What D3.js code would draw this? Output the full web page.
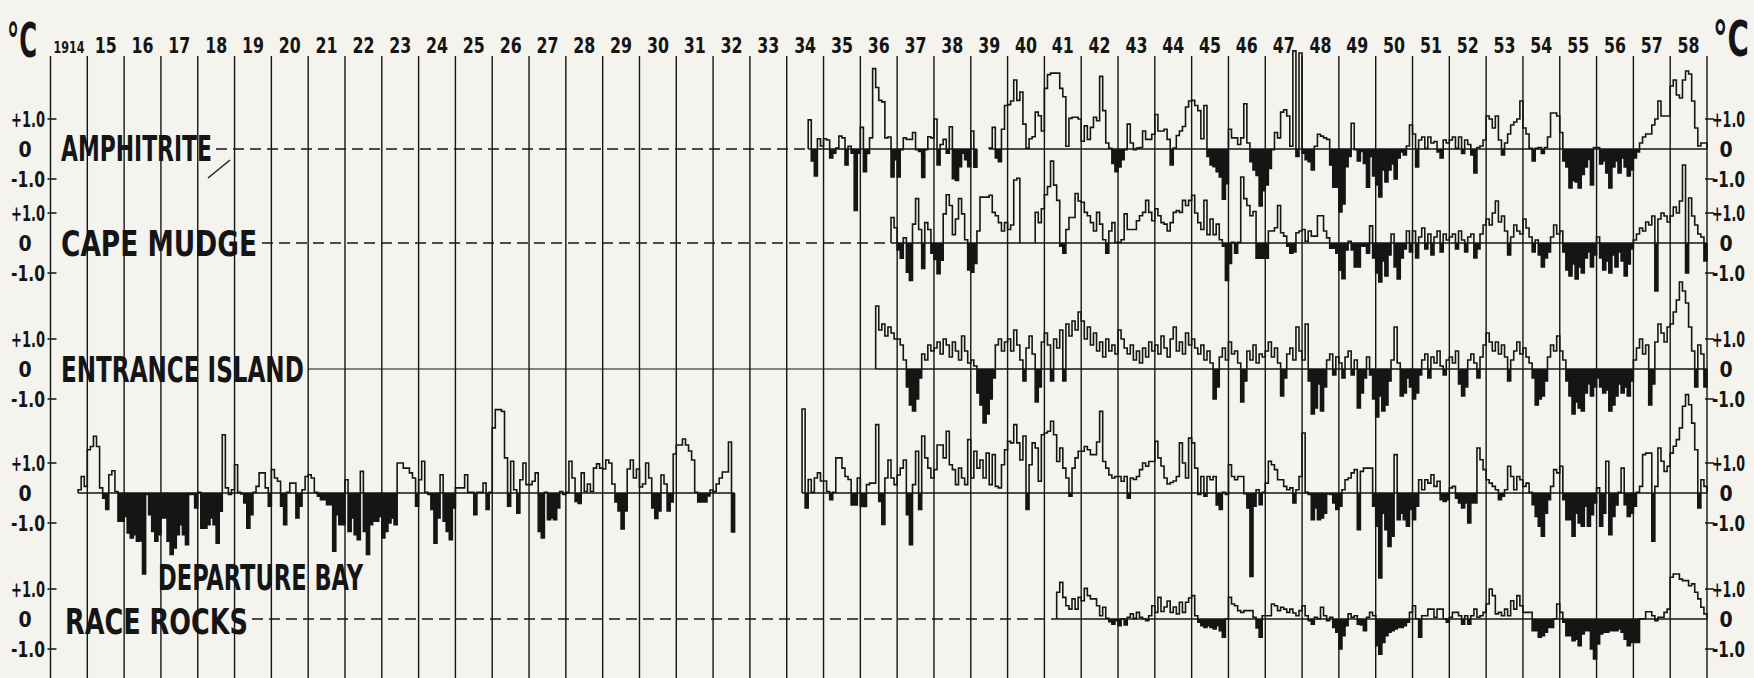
<!DOCTYPE html>
<html>
<head>
<meta charset="utf-8">
<script src="https://cdn.jsdelivr.net/npm/d3@7"></script>
<style>
  body { margin: 0; background: #f4f3ee; }
  svg { display: block; }
  text { font-family: "Liberation Sans Narrow", "DejaVu Sans Condensed", "Arial Narrow", sans-serif; font-weight: bold; fill: #151515; }
</style>
</head>
<body>
<svg id="chart" width="1754" height="678"></svg>
<script>
// year labels along the top
const yearLabels = ["1914", "15", "16", "17", "18", "19", "20", "21", "22", "23", "24", "25", "26", "27", "28",
  "29", "30", "31", "32", "33", "34", "35", "36", "37", "38", "39", "40", "41", "42", "43", "44", "45", "46",
  "47", "48", "49", "50", "51", "52", "53", "54", "55", "56", "57", "58"];
const stationNames = ["AMPHITRITE", "CAPE MUDGE", "ENTRANCE ISLAND", "DEPARTURE BAY", "RACE ROCKS"];
const tickValues = [1, 0, -1];
const tickLabels = ["+1.0", "0", "-1.0"];

// monthly sea temperature anomalies (°C); each series starts at the month given
const amphitriteStart = ["1934-08", "1939-07"];
const amphitrite1 = [
  0.97, -0.4, -0.9, 0.34, 0.1,
  0.34, 0.3, -0.3, -0.14, 0.03, 0.43, 0.37, -0.53, 0.09, -0.14, -2.05, -0.14,
  0.72, -0.76, -0.15, 0.37, 2.68, 2.05, 1.62, 1.57, 0.37, 0.4, -0.93, -0.36,
  -0.93, -0.02, 0.37, 0.32, 0.32, 0.55, -0.02, -0.08, -0.95, -0.02, 0.41, 0.37,
  1.0, -0.53, 0.15, 0.32, -0.14, 0.74, -0.99, -1.05, -0.59, -0.14, -0.36, -0.59,
  0.6, -0.61];
const amphitrite2 = [
  0.03, 0.72, -0.3, -0.42, 0.66, 1.45,
  1.48, 1.6, 2.3, 1.62, 1.9, 0.83, 0.03, 0.34, 0.41, 1.23, 1.11, 0.6,
  2.02, 2.48, 2.53, 2.53, 2.53, 2.02, 1.74, 0.09, 1.02, 1.06, 1.06, 1.0,
  0.26, 0.77, 0.32, 0.72, 1.06, 0.94, 2.42, 1.28, 0.2, 0.02, -0.48, -0.76,
  -0.6, -0.36, -0.02, 0.83, 0.2, -0.02, 0.03, 0.05, 0.6, 0.32, 0.32, 0.49,
  1.15, 0.6, 0.6, 0.66, 0.32, -0.53, 0.03, 0.45, 0.6, 0.75, 1.4, 1.6,
  1.62, 1.45, 1.28, 0.34, 1.45, -0.25, -0.53, -0.59, -0.76, -0.93, -1.67, -1.16,
  0.66, 0.37, 0.37, 0.15, 0.37, 1.51, 0.2, -0.42, -0.7, -0.88, -1.9, -1.39,
  -1.2, -0.65, -0.02, 0.55, 0.37, 1.23, 1.31, 1.1, 0.09, 3.27, -0.25, 3.2,
  -0.14, -0.36, -0.42, -0.7, 0.09, 0.49, 0.43, 0.37, 0.32, -0.53, -1.27, -1.27,
  -2.1, -1.83, -0.59, -0.25, 0.86, -0.02, -0.4, -0.08, -0.48, -1.27, -0.25, -0.9,
  -1.2, -1.6, -0.7, -1.1, -0.7, -0.5, -1.0, -0.3, -0.1, -0.2, 0.1, 0.8,
  0.5, -0.6, 0.3, 0.4, 0.02, 0.4, 0.2, 0.25, -0.1, -0.3, 0.3, 0.2,
  0.3, 0.4, 0.02, 0.4, -0.15, 0.3, 0.15, -0.2, -0.8, 0.05, 0.1, 0.3,
  1.1, 1.0, 0.7, 1.1, 0.3, -0.2, 0.2, 0.5, 0.8, 0.9, 1.0, 1.6,
  0.7, 0.5, 0.02, -0.4, 0.02, 0.05, -0.15, 0.05, 0.4, 1.2, 1.2, 1.1,
  0.55, -0.4, -0.6, -1.3, -1.05, -1.1, -1.3, -0.85, -0.6, -0.35, -1.2, 0.05,
  0.05, -0.5, -0.4, -0.8, -1.3, -0.6, -0.4, -0.8, -0.3, -0.6, -0.9, -0.7,
  -0.3, -0.1, 0.2, 0.4, 0.5, 0.5, 0.8, 1.0, 1.6, 1.1, 1.1, 1.1,
  2.1, 2.3, 1.8, 1.7, 2.3, 2.6, 2.5, 1.6, 0.7, 0.1, 0.2, 0.2];

const capeMudgeStart = ["1936-11", "1940-10"];
const capeMudge1 = [
  0.85, 0.51,
  -0.23, -0.51, 0.17, -0.97, -1.25, 0.63, 1.48, 0.45, -0.85, 0.68, 0.45, -0.34,
  -0.55, -1.02, -0.57, 0.97, 1.61, 1.25, 0.28, 0.8, 1.48, 0.97, 0.11, -0.9,
  -0.97, -0.68, 0.4, 1.53, 1.53, 1.53, 1.59, 1.02, 0.91, 0.68, 0.4, 0.68,
  0.45, 0.6, 2.1, 2.16];
const capeMudge2 = [
  1.02, 0.68, 1.14,
  1.61, 1.88, 2.73, 1.93, 1.42, -0.11, -0.34, 0.45, 0.85, 0.85, 1.65, 1.4,
  1.36, 1.02, 0.91, 0.68, 0.4, 1.02, 0.63, 0.11, -0.34, 0.4, 0.68, 0.02,
  0.02, 0.11, 0.97, 0.45, 0.45, 0.45, 0.74, 0.91, 1.02, 1.42, 1.02, 0.74,
  1.14, 0.91, 0.68, 0.63, 0.4, 0.68, 1.02, 1.08, 1.02, 1.42, 1.25, 1.42,
  1.59, 1.0, 0.68, 0.45, 1.42, 0.28, 0.8, 0.28, 0.63, 0.11, -0.11, -1.25,
  -0.68, 0.02, -0.34, 0.02, 2.2, 1.48, 1.25, 0.91, 1.05, -0.51, -0.51, -0.51,
  -0.51, 0.4, 0.4, 0.51, 1.25, 0.34, 0.23, -0.11, -0.34, -0.3, 0.34, 0.4,
  0.45, 0.06, 0.4, 0.23, 0.23, 0.91, 0.91, 0.4, 0.17, -0.17, -0.17, -0.34,
  -0.91, -1.19, -0.23, 0.06, -0.23, -0.8, -0.8, -0.11, -0.11, -0.34, 0.57, -0.5,
  -1.0, -1.3, -0.6, -1.1, -0.4, 0.3, -0.8, -1.2, -0.5, -0.2, 0.4, -0.3,
  0.4, -0.5, 0.2, 0.5, -0.2, 0.3, -0.4, 0.2, 0.4, -0.3, 0.3, 0.1,
  0.2, 0.3, -0.2, 0.4, 0.1, -0.3, 0.2, 0.3, -0.5, -0.2, 0.3, 0.6,
  0.8, 0.6, 1.0, 1.4, 0.7, 0.9, 0.4, -0.4, 0.2, 0.6, 0.4, 0.3,
  0.8, 0.5, 0.2, -0.3, 0.1, -0.4, -0.8, -0.5, -0.3, 0.2, 0.6, 0.3,
  0.4, -0.3, -0.9, -1.1, -0.7, -1.2, -0.8, -1.0, -0.5, -0.3, -0.8, -0.4,
  0.2, -0.5, -0.9, -0.6, -1.0, -0.4, -0.8, -0.3, -0.6, -1.1, -0.7, -0.2,
  0.1, 0.3, 0.5, 0.4, 0.7, 0.6, 0.9, -1.6, 0.8, 1.0, 0.9, 0.7,
  0.9, 1.2, 1.0, 1.4, 2.6, -1.0, 1.5, 0.9, 0.6, 0.3, 0.2, -0.6];

const entranceStart = ["1936-06"];
const entrance1 = [
  2.1, 1.3, 1.5, 1.1, 1.4, 1.2, 1.0,
  1.0, 0.8, 0.3, -0.6, -1.2, -1.4, -1.0, -0.3, 0.5, 0.3, 0.8, 0.6,
  0.7, 0.9, 0.5, 1.0, 0.8, 0.4, 0.9, 0.6, 0.3, 1.1, 0.6, 0.2,
  0.3, 0.1, -0.8, -1.2, -1.8, -1.5, -1.0, -0.3, 0.8, 1.0, 0.6, 0.9,
  1.0, 0.6, 1.3, 0.8, 0.3, -0.4, 0.7, 1.1, 0.5, -1.1, -0.6, 0.9,
  1.2, 0.8, -0.4, 1.0, 0.7, 1.3, -0.4, 1.5, 1.1, 1.6, 1.3, 1.9,
  1.6, 1.0, 1.4, 0.8, 1.2, 0.6, 0.9, 0.4, 1.0, 0.6, 0.8, 0.5,
  1.3, 1.0, 0.7, 0.5, 0.8, 0.3, 0.6, 0.2, 0.7, 0.4, 0.9, 0.6,
  0.8, 0.5, 1.1, 0.7, 0.4, 1.0, 1.4, 0.6, 0.9, 0.5, 1.2, 0.8,
  1.0, 0.7, 0.5, 0.8, 0.3, 0.6, 0.2, -1.0, -0.6, 0.4, 0.7, 0.3,
  0.9, 0.5, 0.6, 0.2, -1.1, -0.4, 0.6, 0.3, 0.8, 0.2, 0.5, 0.4,
  0.6, 0.9, 0.4, 0.7, 0.2, -0.9, -0.3, 0.5, 0.7, 0.3, 1.4, 0.6,
  0.3, 1.5, -0.4, -1.5, -1.3, -0.5, -1.4, -0.6, 0.3, 0.5, -0.2, 0.4,
  0.2, -0.3, 0.4, 0.6, -0.2, 0.3, -1.3, -0.8, -0.3, 0.4, -0.2, -1.0,
  -1.6, -0.9, -1.4, -1.2, -0.4, 0.3, 1.4, 0.2, -0.9, -0.8, -0.3, -0.6,
  -1.0, -0.8, -0.2, 0.3, 0.5, -0.3, 0.4, 0.2, 0.6, 0.1, -0.2, 0.3,
  0.4, 0.2, 0.6, -0.5, -0.9, -0.6, 0.3, 0.5, 0.2, -0.3, 0.4, 0.8,
  1.2, 0.9, 0.6, 0.9, 0.5, 0.8, 0.4, -0.4, 0.3, 0.6, 0.9, 0.5,
  0.7, 0.4, 0.2, -0.3, -1.2, -1.0, -0.9, -0.4, 0.4, 0.8, 0.6, 1.1,
  0.6, 0.3, -0.4, -0.9, -1.5, -1.1, -1.3, -1.4, -0.8, -0.5, -0.9, -0.6,
  -0.3, -0.6, -0.8, -0.7, -1.4, -1.2, -0.9, -0.5, -0.8, -0.6, -0.9, -0.4,
  0.3, 0.7, 1.0, 0.5, 0.8, -1.2, -0.5, 0.9, 1.5, 1.2, 0.9, 1.4,
  1.5, 1.9, 2.3, 2.9, 2.6, 2.2, 1.4, 0.6, -0.6, 0.8, 0.5, -0.6];

const departureStart = ["1914-10", "1934-06"];
const departure1 = [
  0.11, 0.55, 0.22,
  1.44, 1.55, 1.89, 1.55, 0.17, -0.17, -0.55, 0.61, 0.74, 0.05, -0.94, -0.94,
  -0.78, -1.33, -1.5, -1.39, -1.61, -1.6, -2.7, -0.05, -0.72, -1.28, -1.61, -1.39,
  -0.83, -0.83, -1.61, -2.05, -1.83, -1.39, -1.06, -1.39, -1.72, -0.05, -0.05, -0.5,
  0.02, -1.17, -1.17, -1.06, -0.83, -1.06, -1.67, -0.61, 1.94, 0.17, -0.05, 0.11,
  0.94, 0.02, -0.03, -0.33, -1.17, -0.72, 0.02, 0.22, 0.67, 0.67, 0.17, -0.44,
  0.78, 0.5, 0.39, -0.44, -1.06, 0.02, 0.33, 0.33, -0.83, -0.44, 0.11, 0.55,
  0.61, 0.5, 0.02, -0.11, -0.22, -0.22, -0.39, -0.39, -1.94, -0.72, -1.06, -1.06,
  0.44, -1.28, -0.83, -1.39, -1.56, 0.72, -1.28, -2.05, -1.06, -0.94, -0.94, -0.78,
  -1.5, -1.28, -1.0, -0.83, -1.06, 1.0, 1.0, 0.83, 0.83, 0.67, 0.5, -0.44,
  0.44, 1.06, 0.02, -0.05, -0.55, -1.67, -0.83, 0.61, -0.94, -1.28, -1.56, -0.5,
  0.17, 0.17, 0.17, 0.61, 0.02, 0.02, -0.72, 0.02, 0.02, 0.33, -0.55, 0.02,
  2.17, 2.78, 2.78, 2.72, 1.17, -0.44, 1.06, 0.11, -0.67, 0.44, 1.0, 0.28,
  0.28, 0.39, 0.67, -1.28, -1.5, 0.02, -0.89, -0.83, -0.89, -0.5, 0.05, -0.05,
  0.02, 1.06, 0.5, -0.28, -0.35, 0.67, 0.05, 0.3, 0.05, 0.83, 0.97, 0.83,
  0.8, 1.1, 1.0, 0.3, -0.3, -0.6, -1.2, -0.6, 0.8, 1.1, 0.5, 0.8,
  0.2, 0.3, 1.0, 0.5, -0.5, -0.85, -0.6, 0.6, 0.3, -0.6, -0.3, 1.3,
  1.6, 1.6, 1.8, 1.6, 1.4, 1.1, 0.02, -0.3, -0.3, -0.3, -0.1, 0.1,
  0.05, 0.3, 0.5, 0.7, 0.7, 1.7, -1.3];
const departure2 = [
  2.8, -0.5, 0.45, 0.02, 0.5, 0.67, 0.4,
  0.4, 0.05, -0.22, 0.02, 1.17, 1.17, 0.83, 0.55, 0.45, -0.4, -0.4, 0.5,
  -0.45, -0.45, 0.28, 0.33, 0.33, 2.28, -0.28, -1.05, 0.5, 1.1, 0.5, 0.28,
  0.6, 0.83, 1.1, -0.72, -1.72, 0.28, 1.39, -0.55, 1.9, 1.17, 0.83, 0.5,
  0.78, 1.6, 1.6, 1.17, 2.06, 0.94, 0.78, 0.28, 0.83, 0.5, 0.28, 1.78,
  0.5, 1.39, 0.83, 1.1, 0.5, 1.33, 0.28, 1.28, 0.22, 0.17, 0.94, 1.44,
  1.72, 1.67, 2.28, 1.67, 1.1, 1.9, -0.55, 0.94, 1.67, 1.5, 0.39, 1.94,
  2.0, 2.06, 2.39, 1.94, 1.05, 1.5, 0.83, 0.5, -0.11, 0.83, 1.17, 1.39,
  1.39, 1.55, 1.44, 1.28, 1.28, 1.7, 2.72, 1.05, 0.83, 0.6, 0.5, 0.55,
  0.55, 0.39, 0.55, -0.17, 0.5, 0.45, 0.55, 0.78, 1.0, 0.89, 1.05, 1.05,
  1.72, 1.17, 0.9, 0.5, 0.3, 0.35, 0.4, 0.55, 1.67, 1.0, 0.5, 1.83,
  1.67, 0.83, -0.05, 0.55, -0.11, 0.55, 0.44, 0.55, -0.4, -0.55, 0.02, -0.05,
  0.94, 0.55, 0.44, 0.55, 0.55, -0.02, -0.5, -2.78, -0.44, 0.11, -0.39, 0.02,
  0.33, 1.06, 0.94, 0.78, 0.44, 0.44, 0.22, 0.11, 0.17, -0.33, 0.11, 0.55,
  2.0, 0.02, -0.05, -0.89, -0.5, -0.89, -0.83, -0.67, -0.03, -0.05, -0.33, -0.55,
  -0.44, 0.11, 0.44, 0.5, 0.67, 0.78, -1.22, 0.72, 0.83, 0.83, 0.83, -0.44,
  -1.11, -2.83, -0.67, -1.22, -1.78, -1.44, 1.28, -0.89, -0.67, -0.89, -1.11, -0.55,
  -0.89, -0.44, 0.44, 0.11, 0.44, 0.33, 0.61, 0.22, 0.39, -0.22, -0.28, -0.22,
  0.17, 0.22, -0.17, -0.33, -0.5, -0.33, -1.0, -0.33, -0.33, 1.5, 1.11, 0.78,
  0.44, 0.33, 0.22, 0.11, -0.22, -0.11, 0.11, 0.89, 0.55, 0.11, 0.55, 0.44,
  0.22, 0.33, 0.02, -0.39, -0.78, -1.11, -1.44, -0.67, -0.22, 0.22, 0.78, 0.67,
  0.89, -0.22, -0.89, -0.89, -1.44, -0.67, -1.0, -1.11, -0.44, -1.11, -0.72, -0.33,
  0.17, -1.11, -0.67, 1.06, -1.39, -0.78, -0.4, 0.02, 0.83, -0.39, -0.78, -0.67,
  -0.44, 0.02, 0.22, 1.28, 1.33, 1.33, -1.61, 0.22, 1.5, 1.06, 0.72, 0.89,
  1.33, 1.56, 1.78, 2.17, 2.89, 3.28, 2.94, 2.33, 1.44, -0.5, 0.44, 0.22];

const raceRocksStart = ["1941-05"];
const raceRocks1 = [
  0.89, 1.22, 0.72, 0.44, 0.33, 0.67, 0.33, 0.72,
  0.61, 1.02, 0.78, 0.67, 0.67, 0.44, 0.11, 0.39, 0.02, -0.09, -0.17, -0.06,
  -0.22, 0.01, -0.2, 0.06, 0.17, 0.02, 0.22, 0.06, 0.01, -0.06, 0.11, 0.44,
  0.22, 0.72, 0.25, 0.4, 0.6, 0.22, 0.4, 0.17, 0.56, 0.22, 0.56, 0.7,
  0.78, 0.11, -0.11, -0.22, -0.28, -0.22, -0.28, -0.33, -0.22, -0.39, -0.61, 0.01,
  0.72, 0.5, 0.44, 0.28, 0.22, 0.28, 0.28, 0.28, 0.06, -0.3, -0.61, 0.11,
  0.11, 0.11, 0.5, 0.44, 0.28, 0.39, 0.33, 0.22, 0.33, 0.2, 0.11, 0.28,
  0.44, 0.11, -0.06, -0.17, 0.06, 0.01, 0.39, 0.11, -0.06, 0.06, -0.28, -0.44,
  -1.0, -0.56, -0.22, 0.17, 0.06, 0.11, -0.17, -0.2, -0.39, 0.06, 0.22, 0.11,
  -0.89, -1.17, -0.78, -0.56, -0.44, -0.39, -0.33, -0.28, -0.28, -0.22, -0.11, 0.22,
  0.44, 0.01, -0.61, 0.11, 0.11, 0.33, 0.33, 0.06, 0.33, 0.33, 0.01, -0.11,
  0.06, 0.22, 0.22, 0.11, -0.17, 0.11, -0.17, 0.11, 0.33, 0.06, 0.11, 0.22,
  0.5, 1.0, 0.78, 0.17, 0.22, 0.11, 0.33, 0.11, 0.61, 0.33, 0.78, 0.44,
  0.22, 0.22, 0.22, -0.39, -0.39, -0.61, -0.56, -0.44, -0.28, -0.28, 0.01, 0.5,
  0.22, -0.11, -0.56, -0.56, -0.72, -0.67, -0.89, -0.5, -0.39, -0.39, -1.0, -1.33,
  -0.83, -0.5, -0.44, -0.44, -0.39, -0.39, -0.39, -0.33, -0.44, -0.67, -0.89, -0.78,
  -0.78, -0.78, 0.01, 0.01, 0.24, 0.24, 0.11, -0.06, 0.06, 0.06, 0.22, 0.33,
  1.39, 1.5, 1.5, 1.33, 1.28, 1.28, 1.11, 1.17, 0.89, 0.67, 0.39, 0.17];

// ---- layout ----
const ink = "#151515";
const svg = d3.select("#chart");
const x = d3.scaleLinear().domain([1914, 1959]).range([50.5, 1707]);
const degPx = 30;
const gridTop = 56;

const rows = [
  { name: stationNames[0], zero: 149, starts: amphitriteStart, series: [amphitrite1, amphitrite2],
    label: [61, 161, 151], dashFrom: 216, dashed: true, joinGaps: false },
  { name: stationNames[1], zero: 243, starts: capeMudgeStart, series: [capeMudge1, capeMudge2],
    label: [61, 256, 196], dashFrom: 262, dashed: true, joinGaps: true },
  { name: stationNames[2], zero: 369, starts: entranceStart, series: [entrance1],
    label: [61, 382, 243], dashFrom: 308, dashed: false, joinGaps: true },
  { name: stationNames[3], zero: 493, starts: departureStart, series: [departure1, departure2],
    label: [158, 590, 205], dashFrom: null, dashed: false, joinGaps: false },
  { name: stationNames[4], zero: 619, starts: raceRocksStart, series: [raceRocks1],
    label: [65, 634, 183], dashFrom: 252, dashed: true, joinGaps: true }
];

function startTime(s) {
  const [yy, mm] = s.split("-").map(Number);
  return yy + (mm - 1) / 12;
}

// condensed lettering: squeeze a text horizontally to a given width
function lettering(parent, str, px, py, size, width, anchor) {
  const t = parent.append("text").attr("font-size", size).text(str);
  const w = t.node().getComputedTextLength();
  const s = width ? Math.min(1, width / w) : 1;
  const ww = w * s;
  const left = anchor === "end" ? px - ww : anchor === "middle" ? px - ww / 2 : px;
  t.attr("transform", `translate(${left},${py}) scale(${s},1)`);
  return t;
}

// year grid
svg.append("g").selectAll("line")
  .data(d3.range(1914, 1960))
  .join("line")
  .attr("x1", d => x(d)).attr("x2", d => x(d))
  .attr("y1", gridTop).attr("y2", 678)
  .attr("stroke", ink).attr("stroke-width", 1.4);

// year labels
const yearG = svg.append("g");
yearLabels.forEach((lab, i) => {
  if (i === 0) lettering(yearG, lab, x(1914.5), 53, 16, 31, "middle");
  else lettering(yearG, lab, x(1914 + i + 0.5), 53, 21, 22, "middle");
});

// degree signs
lettering(svg, "°C", 7, 57, 48, 30, "start");
lettering(svg, "°C", 1713, 56, 50, 36, "start");

rows.forEach(row => {
  const y = d3.scaleLinear().domain([-1, 1]).range([row.zero + degPx, row.zero - degPx]);
  const g = svg.append("g");

  // axis ticks and labels on both sides
  tickValues.forEach((v, i) => {
    if (v !== 0) {
      g.append("line").attr("x1", x(1914) - 3).attr("x2", x(1914) + 6)
        .attr("y1", y(v)).attr("y2", y(v)).attr("stroke", ink).attr("stroke-width", 1.5);
      g.append("line").attr("x1", x(1959) - 2).attr("x2", x(1959) + 7)
        .attr("y1", y(v)).attr("y2", y(v)).attr("stroke", ink).attr("stroke-width", 1.5);
    }
    if (v === 0) {
      lettering(g, tickLabels[i], 25, y(v) + 8, 21, 14, "middle");
      lettering(g, tickLabels[i], 1726, y(v) + 8, 21, 14, "middle");
    } else {
      lettering(g, tickLabels[i], 45, y(v) + 8, 21, 34, "end");
      lettering(g, tickLabels[i], 1712, y(v) + 8, 21, 33, "start");
    }
  });

  const segs = row.series.map((vals, i) => {
    const t0 = startTime(row.starts[i]);
    return { t0, t1: t0 + vals.length / 12, vals };
  }).filter(s => s.vals.length > 0);

  const first = startTime(row.starts[0]);

  // reference line from the station name to the first record
  if (row.dashFrom !== null) {
    g.append("line").attr("x1", row.dashFrom).attr("x2", x(first))
      .attr("y1", y(0)).attr("y2", y(0))
      .attr("stroke", ink).attr("stroke-width", row.dashed ? 1.3 : 1.1)
      .attr("stroke-dasharray", row.dashed ? "11,6" : null);
  }

  // solid zero line where there are records
  const spans = row.joinGaps ? [[first, 1959]] : segs.map(s => [s.t0, s.t1]);
  spans.forEach(([a, b]) => {
    g.append("line").attr("x1", x(a)).attr("x2", x(b))
      .attr("y1", y(0)).attr("y2", y(0)).attr("stroke", ink).attr("stroke-width", 1.5);
  });

  const line = d3.line().x(d => x(d.t)).y(d => y(d.v)).curve(d3.curveStepAfter);
  const area = d3.area().x(d => x(d.t)).y0(y(0)).y1(d => y(Math.min(0, d.v))).curve(d3.curveStepAfter);

  segs.forEach(s => {
    const pts = [{ t: s.t0, v: 0 }]
      .concat(s.vals.map((v, i) => ({ t: s.t0 + i / 12, v })))
      .concat([{ t: s.t1, v: 0 }]);
    g.append("path").attr("d", area(pts)).attr("fill", ink);
    g.append("path").attr("d", line(pts)).attr("fill", "none")
      .attr("stroke", ink).attr("stroke-width", 1.6).attr("stroke-linejoin", "miter");
  });

  // station name
  lettering(g, row.name, row.label[0], row.label[1], 36, row.label[2], "start");
});

// small pointer stroke beside AMPHITRITE
svg.append("line").attr("x1", 208).attr("y1", 178).attr("x2", 230).attr("y2", 160)
  .attr("stroke", ink).attr("stroke-width", 1.3);
</script>
</body>
</html>
